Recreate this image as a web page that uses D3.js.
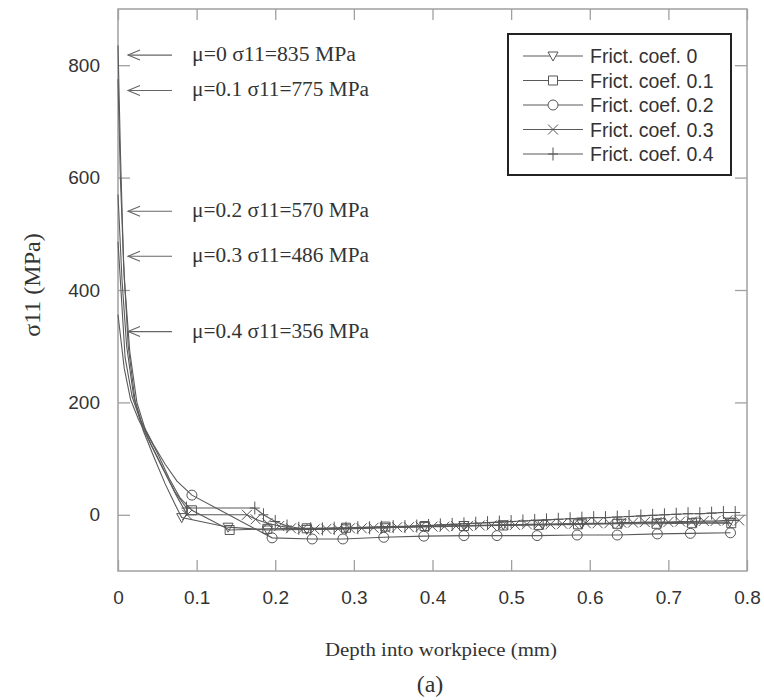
<!DOCTYPE html>
<html>
<head>
<meta charset="utf-8">
<script src="https://cdn.jsdelivr.net/npm/d3@7"></script>
<style>
  body { margin: 0; background: #fff; }
  svg { display: block; }
</style>
</head>
<body>
<svg id="chart" width="764" height="700"></svg>
<script>
// series: [depth (mm), sigma11 (MPa)]
const fric0 = [[0,835],[0.003,650],[0.007,450],[0.013,300],[0.022,200],[0.032,150],[0.045,105],[0.06,55],[0.072,20],[0.081,-5],
  [0.14,-22],[0.19,-27],[0.24,-26],[0.29,-25],[0.34,-23],[0.39,-21],[0.44,-19],[0.49,-18],[0.54,-17],[0.59,-16],[0.64,-15],[0.69,-14],[0.735,-13],[0.778,-13]];
const fric01 = [[0,775],[0.003,600],[0.008,420],[0.015,290],[0.024,200],[0.035,150],[0.05,110],[0.065,65],[0.079,30],[0.094,8],
  [0.142,-27],[0.19,-25],[0.24,-24],[0.29,-23],[0.34,-21],[0.39,-20],[0.44,-20],[0.49,-19],[0.535,-18],[0.585,-17],[0.635,-16],[0.685,-16],[0.73,-15],[0.78,-15]];
const fric02 = [[0,570],[0.005,420],[0.011,300],[0.02,210],[0.03,165],[0.045,125],[0.06,90],[0.075,60],[0.094,35],
  [0.196,-41],[0.247,-43],[0.286,-43],[0.338,-40],[0.389,-38],[0.44,-37],[0.482,-37],[0.533,-37],[0.584,-36],[0.635,-36],[0.686,-34],[0.728,-33],[0.779,-32]];
const fric03 = [[0,486],[0.009,280],[0.018,210],[0.028,170],[0.042,125],[0.058,80],[0.074,35],[0.088,0],[0.164,0],[0.175,-8],[0.19,-15],[0.205,-20],[0.22,-24],[0.235,-25],
  [0.25,-26],[0.265,-25],[0.28,-25],[0.295,-24],[0.31,-24],[0.325,-23],[0.34,-23],[0.355,-22],[0.37,-22],[0.385,-21],[0.4,-21],[0.415,-21],[0.43,-20],[0.445,-20],
  [0.46,-19],[0.475,-19],[0.49,-18],[0.505,-18],[0.52,-17],[0.535,-17],[0.55,-17],[0.565,-16],[0.58,-16],[0.595,-15],[0.61,-15],[0.625,-15],[0.64,-14],[0.655,-14],
  [0.67,-13],[0.685,-13],[0.7,-13],[0.715,-12],[0.73,-12],[0.745,-11],[0.76,-11],[0.775,-10],[0.79,-10]];
const fric04 = [[0,356],[0.008,260],[0.016,205],[0.026,170],[0.04,130],[0.056,85],[0.072,42],[0.087,12],[0.174,12],[0.185,0],[0.2,-12],[0.215,-20],[0.23,-24],
  [0.245,-25],[0.26,-25],[0.275,-24],[0.29,-24],[0.305,-23],[0.32,-23],[0.335,-22],[0.35,-21],[0.365,-21],[0.38,-20],[0.395,-19],[0.41,-18],[0.425,-17],[0.44,-16],
  [0.455,-15],[0.47,-14],[0.485,-13],[0.5,-12],[0.515,-11],[0.53,-10],[0.545,-9],[0.56,-8],[0.575,-7],[0.59,-6],[0.605,-5],[0.62,-5],[0.635,-4],[0.65,-3],
  [0.665,-2],[0.68,-1],[0.695,0],[0.71,1],[0.725,2],[0.74,2],[0.755,3],[0.77,4],[0.785,4]];

const seriesNames = ["Frict. coef. 0", "Frict. coef. 0.1", "Frict. coef. 0.2", "Frict. coef. 0.3", "Frict. coef. 0.4"];
const seriesData = [fric0, fric01, fric02, fric03, fric04];
const seriesMarks = ["tri", "square", "circle", "times", "plus"];

// peak annotations: label, value the arrow points at
const noteLabels = ["μ=0 σ11=835 MPa", "μ=0.1 σ11=775 MPa", "μ=0.2 σ11=570 MPa", "μ=0.3 σ11=486 MPa", "μ=0.4 σ11=356 MPa"];
const noteValues = [818, 755, 540, 460, 326];

const xTicks = [0, 0.1, 0.2, 0.3, 0.4, 0.5, 0.6, 0.7, 0.8];
const yTicks = [0, 200, 400, 600, 800];

const svg = d3.select("#chart");
const L = 118, R = 747, T = 9, B = 571;
const x = d3.scaleLinear().domain([0, 0.8]).range([L, R]);
const y = d3.scaleLinear().domain([-100, 900]).range([B, T]);

const frameCol = "#a0a0a0", lineCol = "#5a5a5a", textCol = "#333";
const sans = "'Liberation Sans', Arial, sans-serif";
const serif = "'Liberation Serif', 'Times New Roman', serif";

// marker shapes (outline only)
const shapes = {
  tri: { draw(c, s) { c.moveTo(-5, -4); c.lineTo(5, -4); c.lineTo(0, 5); c.closePath(); } },
  square: { draw(c, s) { c.rect(-4.5, -4.5, 9, 9); } },
  circle: { draw(c, s) { c.moveTo(5, 0); c.arc(0, 0, 5, 0, 2 * Math.PI); } },
  times: { draw(c, s) { c.moveTo(-5, -5); c.lineTo(5, 5); c.moveTo(-5, 5); c.lineTo(5, -5); } },
  plus: { draw(c, s) { c.moveTo(0, -6.5); c.lineTo(0, 6.5); c.moveTo(-5, 0); c.lineTo(5, 0); } }
};
const sym = k => d3.symbol().type(shapes[k])();

// frame + ticks
svg.append("rect").attr("x", L).attr("y", T).attr("width", R - L).attr("height", B - T)
  .attr("fill", "none").attr("stroke", frameCol).attr("stroke-width", 1.5);

const gx = svg.append("g").attr("transform", `translate(0,${B})`)
  .call(d3.axisBottom(x).tickValues(xTicks).tickSize(-11).tickPadding(20).tickFormat(d => d === 0 ? "0" : d3.format(".1f")(d)));
const gxTop = svg.append("g").attr("transform", `translate(0,${T})`)
  .call(d3.axisTop(x).tickValues(xTicks).tickSize(-11).tickFormat(""));
const gy = svg.append("g").attr("transform", `translate(${L},0)`)
  .call(d3.axisLeft(y).tickValues(yTicks).tickSize(-12).tickPadding(18));
const gyR = svg.append("g").attr("transform", `translate(${R},0)`)
  .call(d3.axisRight(y).tickValues(yTicks).tickSize(-12).tickFormat(""));
[gx, gxTop, gy, gyR].forEach(g => {
  g.select(".domain").remove();
  g.selectAll(".tick line").attr("stroke", frameCol).attr("stroke-width", 1.3);
  g.selectAll("text").attr("fill", textCol).style("font-family", sans).style("font-size", "19px");
});

// curves
const line = d3.line().x(d => x(d[0])).y(d => y(d[1]));
seriesData.forEach((data, i) => {
  svg.append("path").datum(data)
    .attr("fill", "none").attr("stroke", lineCol).attr("stroke-width", 1.1)
    .attr("d", line);
  svg.append("g").selectAll("path").data(data.filter(d => d[0] > 0.08)).join("path")
    .attr("transform", d => `translate(${x(d[0])},${y(d[1])})`)
    .attr("d", sym(seriesMarks[i]))
    .attr("fill", "none").attr("stroke", "#555").attr("stroke-width", 1);
});

// arrows + annotation text
noteLabels.forEach((t, i) => {
  const yy = y(noteValues[i]);
  const g = svg.append("g").attr("stroke", "#666").attr("stroke-width", 1.1).attr("fill", "none");
  g.append("line").attr("x1", 172).attr("x2", 128).attr("y1", yy).attr("y2", yy);
  g.append("path").attr("d", `M140,${yy - 5}L128,${yy}L140,${yy + 5}`);
  svg.append("text").attr("x", 192).attr("y", yy + 6)
    .attr("fill", textCol).style("font-family", serif).style("font-size", "20px")
    .attr("textLength", i === 0 ? 164 : 177).attr("lengthAdjust", "spacingAndGlyphs").text(t);
});

// legend
const lg = svg.append("g");
lg.append("rect").attr("x", 508).attr("y", 34).attr("width", 223).attr("height", 141)
  .attr("fill", "#fff").attr("stroke", "#222").attr("stroke-width", 2);
seriesNames.forEach((n, i) => {
  const ly = 56 + i * 24.5;
  lg.append("line").attr("x1", 523).attr("x2", 583).attr("y1", ly).attr("y2", ly)
    .attr("stroke", lineCol).attr("stroke-width", 1.1);
  lg.append("path").attr("transform", `translate(553,${ly})`).attr("d", sym(seriesMarks[i]))
    .attr("fill", "#fff").attr("stroke", "#555").attr("stroke-width", 1);
  lg.append("text").attr("x", 590).attr("y", ly + 7).attr("fill", textCol)
    .style("font-family", sans).style("font-size", "19.5px").text(n);
});

// axis titles
svg.append("text").attr("transform", "translate(40,285) rotate(-90)").attr("text-anchor", "middle")
  .attr("fill", textCol).style("font-family", serif).style("font-size", "24px").text("σ11 (MPa)");
svg.append("text").attr("x", 441).attr("y", 656).attr("text-anchor", "middle")
  .attr("fill", textCol).style("font-family", serif).style("font-size", "19px")
  .attr("textLength", 232).attr("lengthAdjust", "spacingAndGlyphs").text("Depth into workpiece (mm)");
svg.append("text").attr("x", 430).attr("y", 692).attr("text-anchor", "middle")
  .attr("fill", textCol).style("font-family", serif).style("font-size", "24px").text("(a)");
</script>
</body>
</html>
